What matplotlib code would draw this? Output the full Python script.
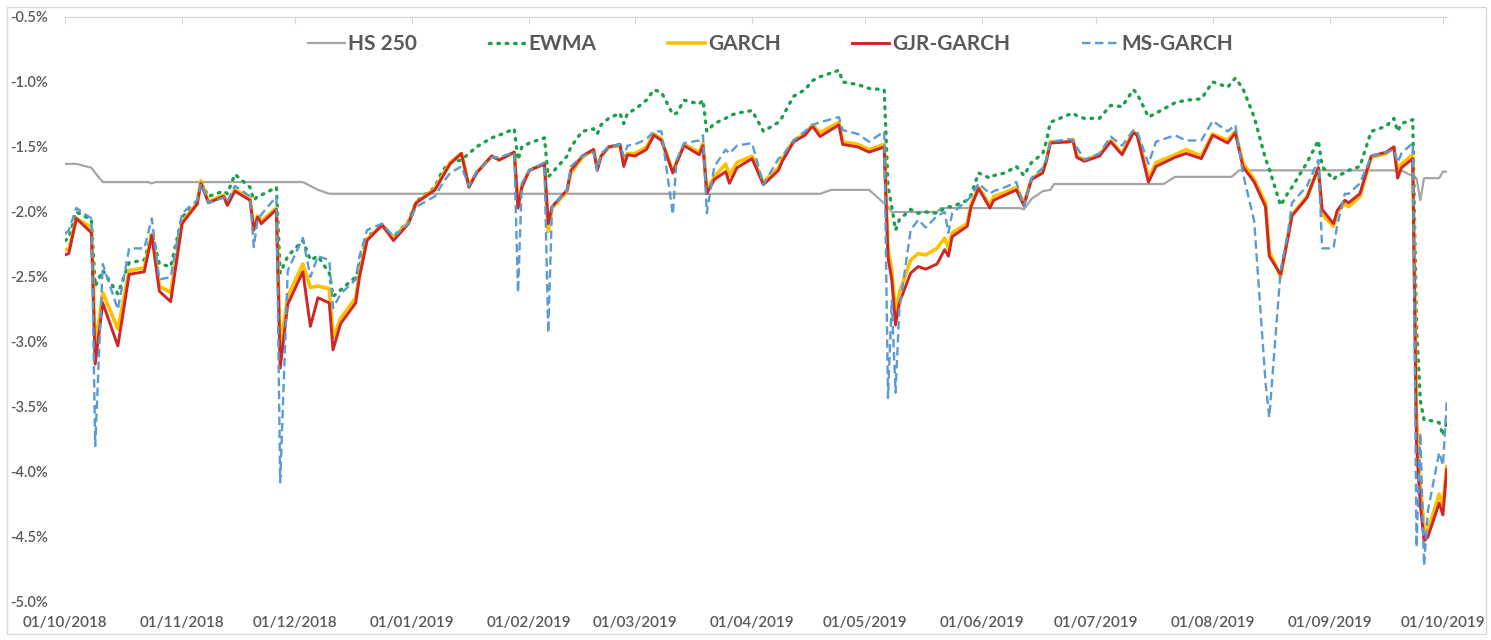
import numpy as np
import matplotlib.pyplot as plt
import matplotlib.dates as mdates
from matplotlib.patches import Rectangle
from matplotlib.ticker import FuncFormatter

# Fuente parecida a la de Excel (Calibri no esta instalada)
plt.rcParams['font.family'] = ['Lato', 'DejaVu Sans']

# Fechas de las estimaciones de los modelos (VaR diario, en %)
fechas = ['2018-10-01', '2018-10-02', '2018-10-04', '2018-10-08', '2018-10-09',
          '2018-10-11', '2018-10-15', '2018-10-18', '2018-10-22', '2018-10-24',
          '2018-10-26', '2018-10-29', '2018-11-01', '2018-11-05', '2018-11-06',
          '2018-11-08', '2018-11-12', '2018-11-13', '2018-11-15', '2018-11-19',
          '2018-11-20', '2018-11-21', '2018-11-22', '2018-11-26', '2018-11-27',
          '2018-11-29', '2018-12-03', '2018-12-05', '2018-12-07', '2018-12-10',
          '2018-12-11', '2018-12-13', '2018-12-17', '2018-12-18', '2018-12-20',
          '2018-12-24', '2018-12-27', '2018-12-31', '2019-01-02', '2019-01-07',
          '2019-01-09', '2019-01-11', '2019-01-14', '2019-01-16', '2019-01-18',
          '2019-01-22', '2019-01-24', '2019-01-28', '2019-01-29', '2019-01-30',
          '2019-02-01', '2019-02-05', '2019-02-06', '2019-02-07', '2019-02-11',
          '2019-02-12', '2019-02-15', '2019-02-18', '2019-02-19', '2019-02-20',
          '2019-02-22', '2019-02-25', '2019-02-26', '2019-02-27', '2019-03-01',
          '2019-03-04', '2019-03-06', '2019-03-08', '2019-03-11', '2019-03-12',
          '2019-03-14', '2019-03-18', '2019-03-19', '2019-03-20', '2019-03-22',
          '2019-03-25', '2019-03-26', '2019-03-28', '2019-04-01', '2019-04-04',
          '2019-04-08', '2019-04-09', '2019-04-12', '2019-04-15', '2019-04-17',
          '2019-04-19', '2019-04-24', '2019-04-25', '2019-04-29', '2019-05-02',
          '2019-05-06', '2019-05-07', '2019-05-08', '2019-05-09', '2019-05-10',
          '2019-05-13', '2019-05-15', '2019-05-17', '2019-05-20', '2019-05-22',
          '2019-05-23', '2019-05-24', '2019-05-28', '2019-05-29', '2019-05-31',
          '2019-06-03', '2019-06-04', '2019-06-07', '2019-06-10', '2019-06-12',
          '2019-06-14', '2019-06-17', '2019-06-18', '2019-06-19', '2019-06-24',
          '2019-06-25', '2019-06-26', '2019-06-28', '2019-07-02', '2019-07-05',
          '2019-07-08', '2019-07-11', '2019-07-12', '2019-07-15', '2019-07-17',
          '2019-07-22', '2019-07-25', '2019-07-29', '2019-08-01', '2019-08-05',
          '2019-08-07', '2019-08-09', '2019-08-12', '2019-08-15', '2019-08-16',
          '2019-08-19', '2019-08-21', '2019-08-22', '2019-08-26', '2019-08-29',
          '2019-08-30', '2019-09-02', '2019-09-03', '2019-09-05', '2019-09-06',
          '2019-09-09', '2019-09-12', '2019-09-16', '2019-09-18', '2019-09-19',
          '2019-09-20', '2019-09-23', '2019-09-24', '2019-09-25', '2019-09-26',
          '2019-09-27', '2019-09-30', '2019-10-01', '2019-10-02']

ewma = [-2.22, -2.20, -2.00, -2.06, -2.57, -2.45, -2.63, -2.39, -2.37, -2.16,
        -2.40, -2.42, -2.04, -1.93, -1.77, -1.88, -1.84, -1.86, -1.71, -1.81,
        -1.91, -1.88, -1.87, -1.81, -2.47, -2.34, -2.22, -2.37, -2.34, -2.47,
        -2.65, -2.60, -2.50, -2.42, -2.19, -2.11, -2.19, -2.07, -1.92, -1.81,
        -1.68, -1.62, -1.60, -1.55, -1.50, -1.43, -1.41, -1.36, -1.60, -1.50,
        -1.47, -1.43, -1.73, -1.70, -1.57, -1.50, -1.38, -1.36, -1.40, -1.33,
        -1.28, -1.24, -1.32, -1.24, -1.21, -1.14, -1.06, -1.08, -1.25, -1.24,
        -1.14, -1.17, -1.14, -1.38, -1.32, -1.28, -1.26, -1.24, -1.22, -1.38,
        -1.31, -1.27, -1.11, -1.06, -0.99, -0.96, -0.91, -1.00, -1.02, -1.05,
        -1.06, -1.80, -1.96, -2.14, -2.06, -1.98, -2.01, -2.00, -2.01, -1.97,
        -1.96, -1.96, -1.91, -1.87, -1.70, -1.74, -1.72, -1.70, -1.65, -1.72,
        -1.62, -1.55, -1.45, -1.31, -1.25, -1.24, -1.26, -1.28, -1.28, -1.18,
        -1.19, -1.06, -1.09, -1.27, -1.24, -1.16, -1.14, -1.13, -1.00, -1.04,
        -0.97, -1.05, -1.27, -1.59, -1.67, -1.95, -1.85, -1.81, -1.62, -1.45,
        -1.65, -1.75, -1.72, -1.70, -1.68, -1.65, -1.38, -1.34, -1.28, -1.38,
        -1.32, -1.29, -2.88, -3.45, -3.60, -3.60, -3.62, -3.72, -3.62]

garch = [-2.29, -2.29, -2.05, -2.12, -3.05, -2.62, -2.90, -2.45, -2.43, -2.17,
         -2.57, -2.62, -2.08, -1.93, -1.76, -1.92, -1.87, -1.93, -1.83, -1.89,
         -2.12, -2.03, -2.07, -1.97, -3.05, -2.65, -2.40, -2.58, -2.57, -2.59,
         -2.97, -2.82, -2.66, -2.48, -2.21, -2.10, -2.20, -2.08, -1.93, -1.82,
         -1.72, -1.62, -1.55, -1.80, -1.70, -1.57, -1.60, -1.54, -1.95, -1.80,
         -1.68, -1.63, -2.15, -1.97, -1.84, -1.70, -1.58, -1.52, -1.66, -1.57,
         -1.50, -1.49, -1.62, -1.55, -1.55, -1.50, -1.40, -1.44, -1.69, -1.62,
         -1.48, -1.54, -1.47, -1.83, -1.73, -1.63, -1.72, -1.62, -1.57, -1.77,
         -1.66, -1.59, -1.45, -1.40, -1.33, -1.39, -1.31, -1.46, -1.48, -1.52,
         -1.48, -2.28, -2.45, -2.79, -2.62, -2.37, -2.32, -2.33, -2.28, -2.20,
         -2.28, -2.16, -2.09, -1.94, -1.81, -1.95, -1.88, -1.85, -1.81, -1.93,
         -1.75, -1.68, -1.60, -1.46, -1.46, -1.44, -1.57, -1.60, -1.56, -1.45,
         -1.55, -1.38, -1.40, -1.74, -1.62, -1.56, -1.52, -1.57, -1.40, -1.45,
         -1.38, -1.62, -1.75, -1.93, -2.30, -2.50, -2.17, -2.02, -1.88, -1.66,
         -2.02, -2.11, -2.00, -1.94, -1.96, -1.88, -1.58, -1.55, -1.50, -1.68,
         -1.63, -1.56, -3.58, -4.10, -4.43, -4.45, -4.17, -4.25, -3.96]

gjr_garch = [-2.33, -2.32, -2.05, -2.16, -3.17, -2.70, -3.03, -2.48, -2.46, -2.18,
             -2.61, -2.69, -2.09, -1.94, -1.78, -1.93, -1.88, -1.95, -1.84, -1.91,
             -2.14, -2.04, -2.09, -1.98, -3.20, -2.71, -2.46, -2.88, -2.66, -2.70,
             -3.06, -2.86, -2.70, -2.50, -2.22, -2.10, -2.22, -2.09, -1.93, -1.83,
             -1.73, -1.63, -1.55, -1.81, -1.70, -1.57, -1.60, -1.54, -1.97, -1.81,
             -1.68, -1.63, -2.09, -1.96, -1.83, -1.68, -1.57, -1.52, -1.68, -1.57,
             -1.50, -1.48, -1.65, -1.56, -1.57, -1.52, -1.41, -1.45, -1.70, -1.62,
             -1.49, -1.56, -1.49, -1.86, -1.75, -1.69, -1.78, -1.66, -1.59, -1.79,
             -1.68, -1.61, -1.46, -1.41, -1.34, -1.42, -1.33, -1.48, -1.50, -1.54,
             -1.50, -2.35, -2.52, -2.87, -2.70, -2.47, -2.42, -2.44, -2.40, -2.29,
             -2.34, -2.19, -2.11, -1.96, -1.82, -1.97, -1.91, -1.87, -1.83, -1.95,
             -1.75, -1.70, -1.60, -1.47, -1.46, -1.45, -1.58, -1.61, -1.57, -1.46,
             -1.56, -1.39, -1.41, -1.77, -1.65, -1.58, -1.55, -1.59, -1.41, -1.47,
             -1.39, -1.65, -1.77, -1.96, -2.34, -2.48, -2.19, -2.03, -1.89, -1.66,
             -1.98, -2.09, -1.99, -1.91, -1.93, -1.86, -1.57, -1.54, -1.50, -1.74,
             -1.66, -1.59, -3.80, -4.25, -4.53, -4.50, -4.24, -4.33, -3.98]

ms_garch = [-2.17, -2.14, -1.97, -2.05, -3.80, -2.40, -2.75, -2.28, -2.28, -2.05,
            -2.52, -2.50, -2.01, -1.91, -1.78, -1.93, -1.89, -1.92, -1.80, -1.88,
            -2.27, -2.06, -2.02, -1.88, -4.08, -2.45, -2.20, -2.50, -2.34, -2.37,
            -2.74, -2.63, -2.52, -2.34, -2.14, -2.09, -2.19, -2.09, -1.96, -1.88,
            -1.78, -1.70, -1.65, -1.80, -1.69, -1.58, -1.58, -1.54, -2.62, -1.78,
            -1.68, -1.62, -2.93, -1.96, -1.83, -1.65, -1.57, -1.54, -1.68, -1.55,
            -1.50, -1.48, -1.57, -1.49, -1.48, -1.44, -1.38, -1.38, -2.02, -1.60,
            -1.47, -1.45, -1.41, -2.01, -1.65, -1.52, -1.55, -1.49, -1.47, -1.79,
            -1.59, -1.57, -1.45, -1.38, -1.33, -1.31, -1.27, -1.37, -1.40, -1.46,
            -1.38, -3.43, -2.68, -3.39, -2.75, -2.14, -2.06, -2.12, -2.03, -2.00,
            -2.16, -2.01, -1.91, -1.88, -1.78, -1.86, -1.84, -1.81, -1.77, -1.96,
            -1.74, -1.66, -1.59, -1.46, -1.44, -1.45, -1.50, -1.60, -1.55, -1.42,
            -1.49, -1.37, -1.38, -1.63, -1.46, -1.41, -1.45, -1.45, -1.30, -1.38,
            -1.33, -1.70, -2.07, -3.31, -3.58, -2.45, -2.15, -1.93, -1.80, -1.60,
            -2.28, -2.28, -2.10, -1.86, -1.86, -1.78, -1.57, -1.54, -1.52, -1.62,
            -1.55, -1.47, -4.58, -3.70, -4.72, -4.30, -3.85, -3.95, -3.46]

# HS 250 cambia por escalones, tiene sus propias fechas
fechas_hs = ['2018-10-01', '2018-10-04', '2018-10-08', '2018-10-09', '2018-10-11',
             '2018-10-23', '2018-10-24', '2018-10-25', '2018-12-03', '2018-12-05',
             '2018-12-07', '2018-12-10', '2019-04-19', '2019-04-22', '2019-05-02',
             '2019-05-07', '2019-05-08', '2019-05-20', '2019-05-21', '2019-06-11',
             '2019-06-12', '2019-06-14', '2019-06-17', '2019-06-19', '2019-06-20',
             '2019-07-19', '2019-07-22', '2019-08-06', '2019-08-08', '2019-09-20',
             '2019-09-24', '2019-09-25', '2019-09-26', '2019-09-30', '2019-10-01',
             '2019-10-02']
hs_250 = [-1.63, -1.63, -1.66, -1.70, -1.77, -1.77, -1.78, -1.77, -1.77, -1.80,
          -1.83, -1.86, -1.86, -1.83, -1.83, -1.96, -2.00, -2.00, -1.97, -1.97,
          -1.98, -1.90, -1.84, -1.83, -1.785, -1.785, -1.73, -1.73, -1.68, -1.68,
          -1.74, -1.91, -1.74, -1.74, -1.69, -1.69]

# Marcas del eje x: primer dia de cada mes
meses = ['2018-10-01', '2018-11-01', '2018-12-01', '2019-01-01', '2019-02-01',
         '2019-03-01', '2019-04-01', '2019-05-01', '2019-06-01', '2019-07-01',
         '2019-08-01', '2019-09-01', '2019-10-01']

fechas = np.array(fechas, dtype='datetime64[D]')
fechas_hs = np.array(fechas_hs, dtype='datetime64[D]')
meses = np.array(meses, dtype='datetime64[D]')

gris_texto = '#595959'

fig = plt.figure(figsize=(14.91, 6.4), dpi=100)
ax = fig.add_axes([0.0436, 0.0594, 0.9267, 0.9141])

# Series (el orden define cual queda encima)
ax.plot(fechas_hs, hs_250, color='#A5A5A5', lw=1.6, label='HS 250',
        solid_joinstyle='round')
ax.plot(fechas, ewma, color='#1E9E4F', lw=2.4, linestyle=(0, (0.5, 2.0)),
        dash_capstyle='round', label='EWMA')
ax.plot(fechas, garch, color='#FFC000', lw=2.6, label='GARCH',
        solid_joinstyle='round')
ax.plot(fechas, gjr_garch, color='#D02626', lw=2.1, label='GJR-GARCH',
        solid_joinstyle='round')
ax.plot(fechas, ms_garch, color='#5B9BD5', lw=1.7, linestyle=(0, (3.6, 1.9)),
        label='MS-GARCH')

# Limites de los ejes
ax.set_ylim(-5.0, -0.5)
ax.set_xlim(np.datetime64('2018-10-01'), np.datetime64('2019-10-02'))
ax.set_yticks(np.arange(-5.0, -0.49, 0.5))
ax.yaxis.set_major_formatter(FuncFormatter(lambda v, p: '%.1f%%' % v))
ax.set_xticks(meses)
ax.xaxis.set_major_formatter(mdates.DateFormatter('%d/%m/%Y'))

# Estilo tipo Excel: eje horizontal arriba (cruza en el maximo), etiquetas abajo
for lado in ['left', 'right', 'bottom']:
    ax.spines[lado].set_visible(False)
ax.spines['top'].set_color('#D9D9D9')
ax.spines['top'].set_linewidth(1.0)
ax.tick_params(axis='x', bottom=False, top=True, direction='in', length=5,
               color='#D9D9D9', labelbottom=True, labeltop=False, pad=10,
               labelsize=11, labelcolor=gris_texto)
ax.tick_params(axis='y', left=False, pad=9, labelsize=10.5,
               labelcolor=gris_texto)
for t in ax.get_xticklabels() + ax.get_yticklabels():
    t.set_fontweight('semibold')

# Leyenda horizontal arriba
ley = ax.legend(loc='center', bbox_to_anchor=(0.517, 0.931),
                bbox_transform=fig.transFigure, ncol=5, frameon=False,
                handlelength=1.75, handletextpad=0.15, columnspacing=3.45,
                prop={'size': 15, 'weight': 'bold'})
for t in ley.get_texts():
    t.set_color(gris_texto)

# Borde del area del grafico
fig.patches.append(Rectangle((0.0047, 0.0094), 0.992, 0.98, fill=False,
                             edgecolor='#D9D9D9', lw=1.0,
                             transform=fig.transFigure, figure=fig))

plt.savefig('out.png', dpi=100)
